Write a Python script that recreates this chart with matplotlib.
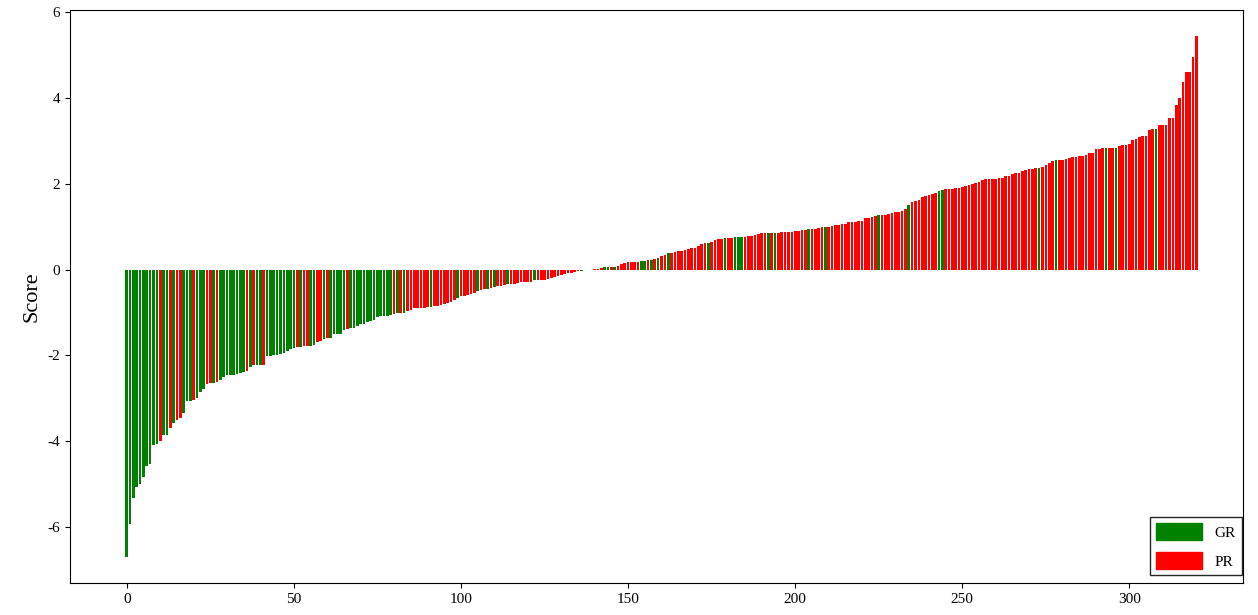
import matplotlib
matplotlib.use("Agg")
import matplotlib.pyplot as plt
from matplotlib.patches import Patch
import numpy as np

plt.rcParams['font.family'] = ['Liberation Serif', 'DejaVu Serif']
plt.rcParams['axes.unicode_minus'] = False

# sorted scores, one bar per sample
scores = [
    -6.69, -5.92, -5.31, -5.06, -4.98, -4.83, -4.57, -4.52, -4.09, -4.05,
    -3.99, -3.86, -3.85, -3.68, -3.56, -3.50, -3.45, -3.33, -3.05, -3.05,
    -3.03, -3.00, -2.85, -2.79, -2.66, -2.65, -2.64, -2.62, -2.58, -2.50,
    -2.46, -2.46, -2.45, -2.42, -2.40, -2.39, -2.37, -2.27, -2.22, -2.22,
    -2.22, -2.21, -2.02, -2.01, -2.00, -1.98, -1.97, -1.94, -1.90, -1.84,
    -1.82, -1.81, -1.80, -1.79, -1.78, -1.77, -1.76, -1.68, -1.67, -1.62,
    -1.60, -1.59, -1.51, -1.50, -1.49, -1.40, -1.39, -1.36, -1.35, -1.32,
    -1.27, -1.26, -1.22, -1.19, -1.17, -1.10, -1.09, -1.08, -1.07, -1.06,
    -1.03, -1.02, -1.01, -1.00, -0.97, -0.93, -0.90, -0.90, -0.89, -0.89,
    -0.88, -0.86, -0.85, -0.84, -0.82, -0.80, -0.78, -0.76, -0.71, -0.67,
    -0.61, -0.61, -0.60, -0.57, -0.55, -0.51, -0.47, -0.46, -0.45, -0.42,
    -0.41, -0.39, -0.38, -0.36, -0.34, -0.33, -0.33, -0.32, -0.30, -0.30,
    -0.29, -0.28, -0.25, -0.25, -0.24, -0.24, -0.23, -0.19, -0.18, -0.15,
    -0.12, -0.10, -0.09, -0.08, -0.06, -0.04, -0.03, -0.02, -0.01, 0.00,
    0.01, 0.02, 0.03, 0.05, 0.05, 0.06, 0.06, 0.09, 0.12, 0.16,
    0.17, 0.17, 0.17, 0.18, 0.21, 0.21, 0.22, 0.22, 0.25, 0.28,
    0.31, 0.35, 0.38, 0.39, 0.40, 0.44, 0.44, 0.45, 0.48, 0.51,
    0.51, 0.56, 0.60, 0.61, 0.63, 0.64, 0.70, 0.71, 0.72, 0.73,
    0.74, 0.74, 0.75, 0.75, 0.76, 0.76, 0.78, 0.79, 0.80, 0.82,
    0.84, 0.84, 0.85, 0.85, 0.86, 0.86, 0.87, 0.87, 0.88, 0.88,
    0.89, 0.90, 0.91, 0.93, 0.94, 0.95, 0.95, 0.96, 0.98, 1.00,
    1.00, 1.01, 1.03, 1.04, 1.05, 1.06, 1.11, 1.11, 1.11, 1.12,
    1.13, 1.19, 1.20, 1.23, 1.24, 1.26, 1.27, 1.28, 1.30, 1.32,
    1.33, 1.35, 1.37, 1.41, 1.50, 1.58, 1.60, 1.62, 1.70, 1.72,
    1.74, 1.76, 1.78, 1.82, 1.85, 1.87, 1.88, 1.88, 1.89, 1.90,
    1.92, 1.94, 1.96, 1.99, 2.02, 2.05, 2.09, 2.10, 2.10, 2.11,
    2.12, 2.13, 2.14, 2.17, 2.19, 2.22, 2.24, 2.25, 2.29, 2.31,
    2.33, 2.34, 2.36, 2.37, 2.39, 2.44, 2.48, 2.53, 2.54, 2.54,
    2.55, 2.57, 2.60, 2.62, 2.63, 2.64, 2.65, 2.67, 2.71, 2.72,
    2.80, 2.81, 2.82, 2.82, 2.83, 2.83, 2.83, 2.88, 2.90, 2.90,
    2.93, 3.02, 3.05, 3.08, 3.10, 3.12, 3.26, 3.27, 3.27, 3.36,
    3.36, 3.37, 3.52, 3.53, 3.82, 4.00, 4.36, 4.60, 4.61, 4.96,
    5.44,
]

# group of each bar: G = GR, P = PR (same order as scores)
groups = list(
    "GGGGGGGGGG" "PGGPGPPGGG" "PGGGPPGPGG" "GGGGGGPGPG"
    "GPGGGGGGGG" "GPGPPGGPPG" "PGGGGGPGGG" "GGGGGGGGGG"
    "PGPGPPPPPP" "PGPPPPPPPG" "PPPPPGPPGP" "GPPPGPPPPP"
    "PPGPPPPPPP" "PPPPPPGPPP" "PPPGGPGPPP" "PPPPGGPGPG"
    "PPGPPPPPPP" "PPPPGPPPPG" "PPGGGPPPPP" "PPGPGPPPPP"
    "PPPPGPPPPG" "PPPPPPPPPP" "PPPPPGPPPP" "PPPPGPPPPP"
    "PPPGGPPPPP" "PPPPPPPPPP" "PPPPPPPPPP" "PPPGPPPPGP"
    "PPPPPPPPPP" "PPPGPPGPPP" "PPPPPPPPGP" "PPPPPPPPPP"
    "P"
)

group_names = {'G': 'GR', 'P': 'PR'}
group_colors = {'G': 'green', 'P': 'red'}

x = np.arange(len(scores))
colors = [group_colors[g] for g in groups]

fig = plt.figure(figsize=(12.58, 6.15), dpi=100)
ax = fig.add_axes([0.0556, 0.052, 0.9325, 0.932])

ax.bar(x, scores, width=0.8, color=colors)
ax.set_xlim(-17, 334)
ax.set_ylabel('Score', fontsize=16)
ax.tick_params(labelsize=11)

handles = [Patch(color=group_colors[k], label=group_names[k]) for k in ['G', 'P']]
ax.legend(handles=handles, loc='lower right', bbox_to_anchor=(0.999, 0.014),
          borderaxespad=0, fontsize=11, handlelength=3.0, handleheight=1.3,
          labelspacing=0.8, fancybox=False, edgecolor='0.15', framealpha=1)

fig.savefig('out.png', dpi=100)
